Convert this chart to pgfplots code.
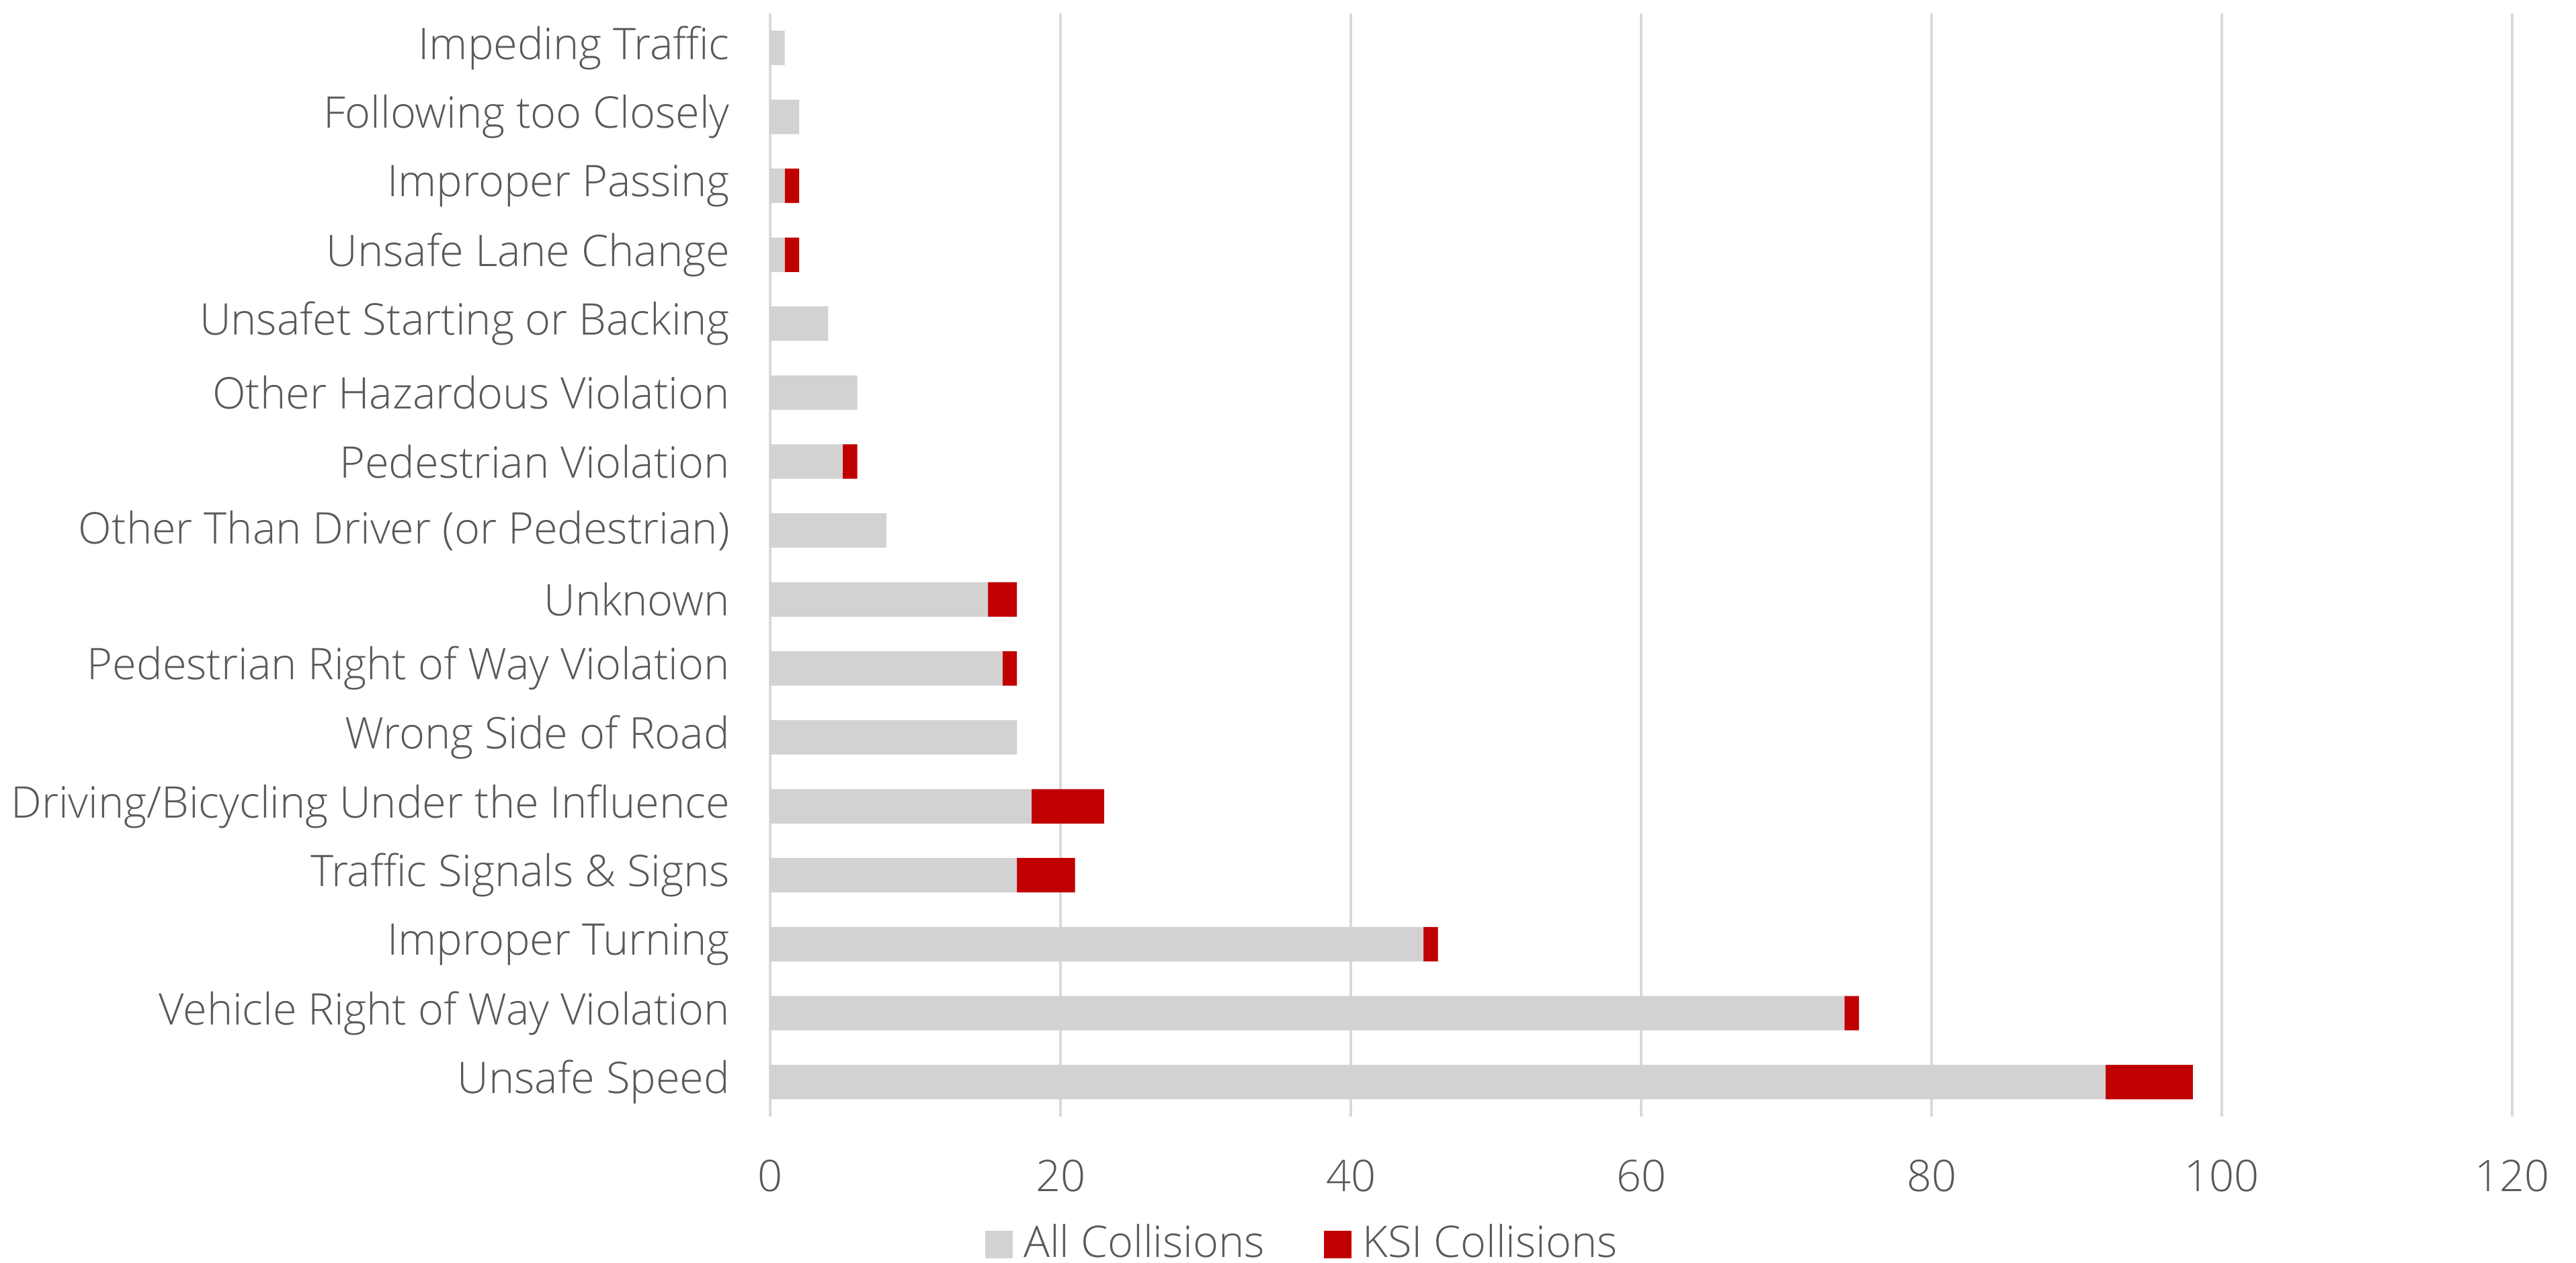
\documentclass[border=0pt]{standalone}
\usepackage{pgfplots}
\pgfplotsset{compat=1.18}
\usepackage{fontspec}
\setmainfont{Open Sans}[UprightFont=* Light]
\definecolor{allc}{HTML}{D3D1D2}
\definecolor{ksic}{HTML}{C00000}
\definecolor{txt}{HTML}{595959}
\definecolor{gridc}{HTML}{D9D9D9}
\begin{document}
\begin{tikzpicture}[font=\fontsize{8.1}{10}\selectfont]
\begin{axis}[
  xbar stacked,
  scale only axis,
  width=324pt, height=205.25pt,
  bar width=6.4pt,
  xmin=0, xmax=120,
  ymin=-0.5, ymax=15.5,
  xtick={0,20,...,120},
  ytick={0,...,15},
  yticklabels={Unsafe Speed,Vehicle Right of Way Violation,Improper Turning,Traffic Signals \& Signs,Driving/Bicycling Under the Influence,Wrong Side of Road,Pedestrian Right of Way Violation,Unknown,Other Than Driver (or Pedestrian),Pedestrian Violation,Other Hazardous Violation,Unsafet Starting or Backing,Unsafe Lane Change,Improper Passing,Following too Closely,Impeding Traffic},
  xmajorgrids, major grid style={gridc, line width=0.5pt},
  axis line style={draw=none},
  tick style={draw=none},
  tick label style={text=txt},
  /pgf/number format/assume math mode=true,
  yticklabel style={xshift=-4pt},
  xticklabel style={yshift=-4.5pt},
  legend style={at={(0.308,-0.116)}, anchor=center, legend columns=2, draw=none, text=txt,
    /tikz/every even column/.append style={column sep=9pt}},
  legend image code/.code={\fill[#1] (0pt,-2.6pt) rectangle (5.2pt,2.6pt);},
]
\addplot[fill=allc, draw=none] coordinates {
(92,0) (74,1) (45,2) (17,3) (18,4) (17,5) (16,6) (15,7) (8,8) (5,9) (6,10) (4,11) (1,12) (1,13) (2,14) (1,15)};
\addplot[fill=ksic, draw=none] coordinates {
(6,0) (1,1) (1,2) (4,3) (5,4) (0,5) (1,6) (2,7) (0,8) (1,9) (0,10) (0,11) (1,12) (1,13) (0,14) (0,15)};
\legend{All Collisions, KSI Collisions}
\coordinate (O) at (rel axis cs:0,0);
\end{axis}
\pgfresetboundingbox
\path[use as bounding box] (O) ++(-143.25pt,-27.125pt) rectangle ++(479.125pt,234.875pt);
\end{tikzpicture}
\end{document}
